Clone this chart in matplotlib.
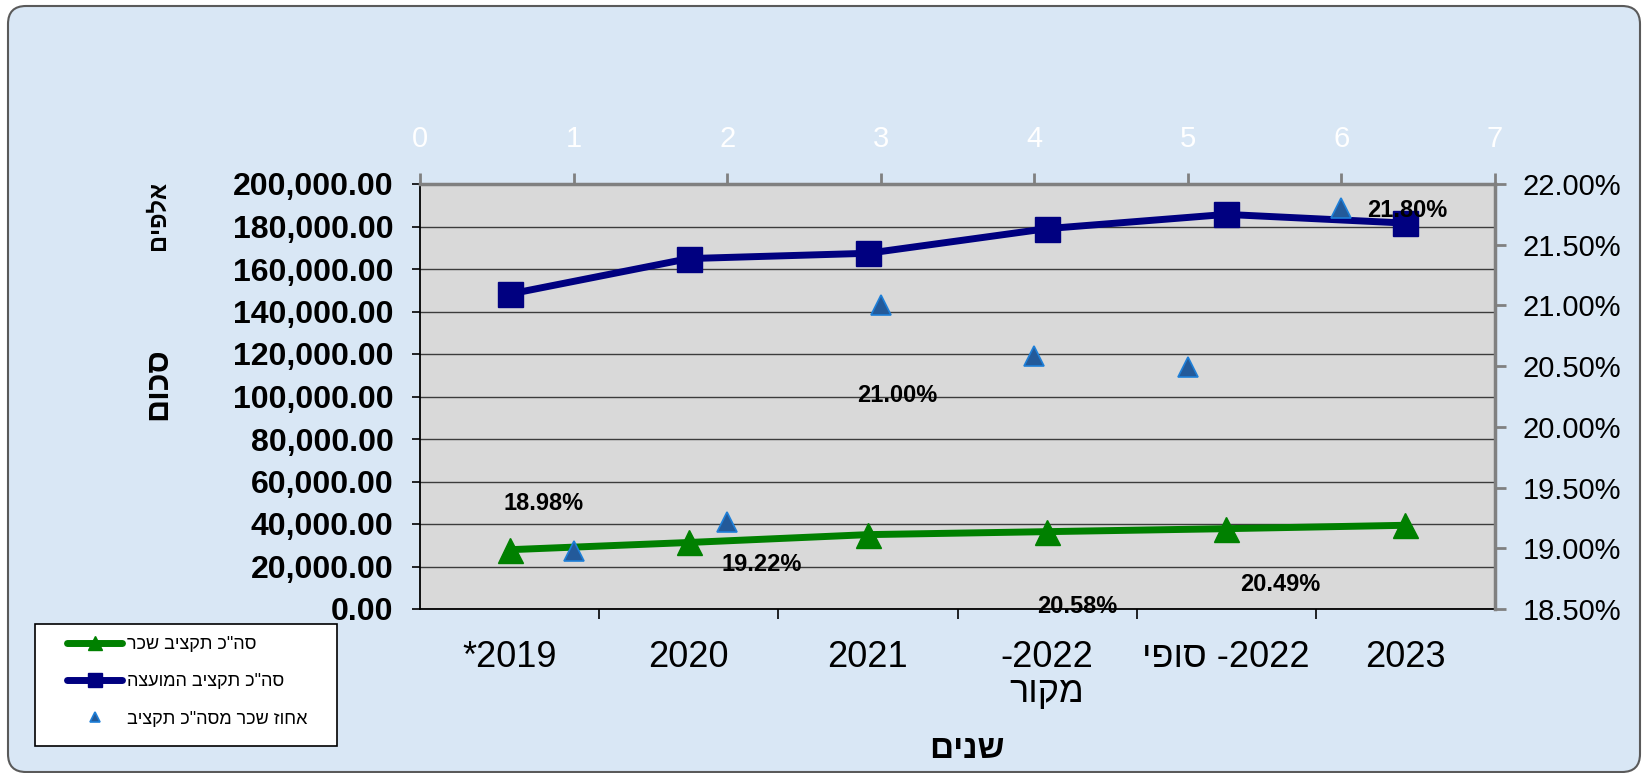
import numpy as np
import matplotlib
matplotlib.use('Agg')
import matplotlib.pyplot as plt
from matplotlib.patches import FancyBboxPatch, Rectangle
from matplotlib.ticker import FuncFormatter

plt.rcParams['font.family'] = ['Liberation Sans', 'DejaVu Sans']


def heb(s):
    """matplotlib has no bidi support: give Hebrew in visual (reversed) order."""
    return s[::-1]


# ---------------- data ----------------
categories = ['*2019', '2020', '2021', '-2022\n' + heb('מקור'), heb('סופי') + ' -2022', '2023']
salary_budget = [27900, 31300, 35000, 36400, 37800, 39400]          # סה"כ תקציב שכר
council_budget = [148200, 164900, 167400, 179000, 185700, 181600]   # סה"כ תקציב המועצה
salary_pct_x = [1, 2, 3, 4, 5, 6]
salary_pct = [18.98, 19.22, 21.00, 20.58, 20.49, 21.80]             # אחוז שכר מסה"כ תקציב
left_ticks = [0, 20000, 40000, 60000, 80000, 100000, 120000, 140000, 160000, 180000, 200000]
right_ticks = [18.5, 19.0, 19.5, 20.0, 20.5, 21.0, 21.5, 22.0]
top_ticks = [0, 1, 2, 3, 4, 5, 6, 7]

series_names = [heb('סה"כ תקציב שכר'), heb('סה"כ תקציב המועצה'), heb('אחוז שכר מסה"כ תקציב')]

# label placement (pixel offsets, style only)
label_offsets = [(-30, 47), (35, -43), (17, -90), (43, -250), (92, -217), (66, -2)]

# ---------------- figure ----------------
FW, FH = 1648, 773
fig = plt.figure(figsize=(FW / 100, FH / 100), dpi=100, facecolor='white')

bg = FancyBboxPatch((0.08, 0.01), 16.32, 7.66,
                    boxstyle='round,pad=0,rounding_size=0.18',
                    transform=fig.dpi_scale_trans,
                    facecolor='#D9E7F5', edgecolor='#5a5a5a', lw=1.5, zorder=0)
fig.add_artist(bg)

rect = [420 / FW, 1 - 609 / FH, (1495 - 420) / FW, (609 - 184) / FH]

# primary axes (categories / amounts)
ax = fig.add_axes(rect)
ax.set_facecolor('#D9D9D9')
x = np.arange(len(categories))
l_green, = ax.plot(x, salary_budget, color='#008000', lw=5, marker='^', ms=18,
                   solid_capstyle='round', zorder=3)
l_navy, = ax.plot(x, council_budget, color='#000080', lw=5, marker='s', ms=18,
                  solid_capstyle='round', zorder=3)
ax.set_xlim(-0.5, len(categories) - 0.5)
ax.set_ylim(left_ticks[0], left_ticks[-1])
ax.set_yticks(left_ticks)
ax.yaxis.set_major_formatter(FuncFormatter(lambda v, p: f'{v:,.2f}'))
ax.yaxis.grid(True, color='#3c3c3c', lw=1.0)
ax.set_axisbelow(True)
ax.set_xticks(x)
ax.set_xticklabels(categories)
ax.set_xticks(np.arange(0.5, len(categories) - 1, 1.0), minor=True)
ax.tick_params(axis='x', which='major', length=0, pad=22, labelsize=26)
ax.tick_params(axis='x', which='minor', length=7, width=1.2, direction='out', color='black')
ax.tick_params(axis='y', direction='out', length=6, width=1.2, color='black', pad=13, labelsize=23)
for t in ax.get_yticklabels():
    t.set_fontweight('bold')
for t in ax.get_xticklabels():
    t.set_linespacing(1.0)
ax.spines['top'].set_visible(False)
ax.spines['right'].set_visible(False)
ax.spines['left'].set_linewidth(1.3)
ax.spines['bottom'].set_linewidth(1.3)

# secondary axes (0..7 on top, percent on right)
ax3 = fig.add_axes(rect, label='secondary')
ax3.patch.set_visible(False)
l_pct, = ax3.plot(salary_pct_x, salary_pct, linestyle='none', marker='^', ms=14,
                  markerfacecolor='#235A9A', markeredgecolor='#1E7FD8', mew=1.2, zorder=4)
ax3.set_xlim(top_ticks[0], top_ticks[-1])
ax3.set_ylim(right_ticks[0], right_ticks[-1])
ax3.xaxis.tick_top()
ax3.yaxis.tick_right()
ax3.set_xticks(top_ticks)
ax3.set_yticks(right_ticks)
ax3.yaxis.set_major_formatter(FuncFormatter(lambda v, p: f'{v:.2f}%'))
ax3.tick_params(axis='x', direction='out', length=8, width=2, color='#808080',
                pad=14, labelsize=21, labelcolor='white')
ax3.tick_params(axis='y', direction='out', length=8, width=2, color='#808080',
                pad=12, labelsize=21, labelcolor='black')
ax3.spines['left'].set_visible(False)
ax3.spines['bottom'].set_visible(False)
for s in ('top', 'right'):
    ax3.spines[s].set_color('#808080')
    ax3.spines[s].set_linewidth(2.5)

for xi, v, (dx, dy) in zip(salary_pct_x, salary_pct, label_offsets):
    ax3.annotate(f'{v:.2f}%', (xi, v), xytext=(dx, dy), textcoords='offset pixels',
                 ha='center', va='center', fontsize=17, fontweight='bold', color='black',
                 zorder=6)

# axis titles
fig.text(158 / FW, 1 - 215 / FH, heb('אלפים'), rotation=90, fontsize=17,
         fontweight='bold', ha='center', va='center')
fig.text(158 / FW, 1 - 384 / FH, heb('סכום'), rotation=90, fontsize=23,
         fontweight='bold', ha='center', va='center')
fig.text(967 / FW, 1 - 749 / FH, heb('שנים'), fontsize=24, fontweight='bold',
         ha='center', va='center')

# legend
fig.add_artist(Rectangle((35 / FW, 1 - 746 / FH), 302 / FW, 122 / FH,
                         transform=fig.transFigure, facecolor='white',
                         edgecolor='black', lw=1.2, zorder=1))
fig.legend([l_green, l_navy, l_pct], series_names, loc='upper left',
           bbox_to_anchor=(67 / FW, 1 - 636 / FH), frameon=False,
           borderpad=0, borderaxespad=0, fontsize=13, markerscale=0.55,
           handlelength=3.05, handletextpad=0.3, labelspacing=1.13)

fig.savefig('out.png', dpi=100, facecolor='white')
